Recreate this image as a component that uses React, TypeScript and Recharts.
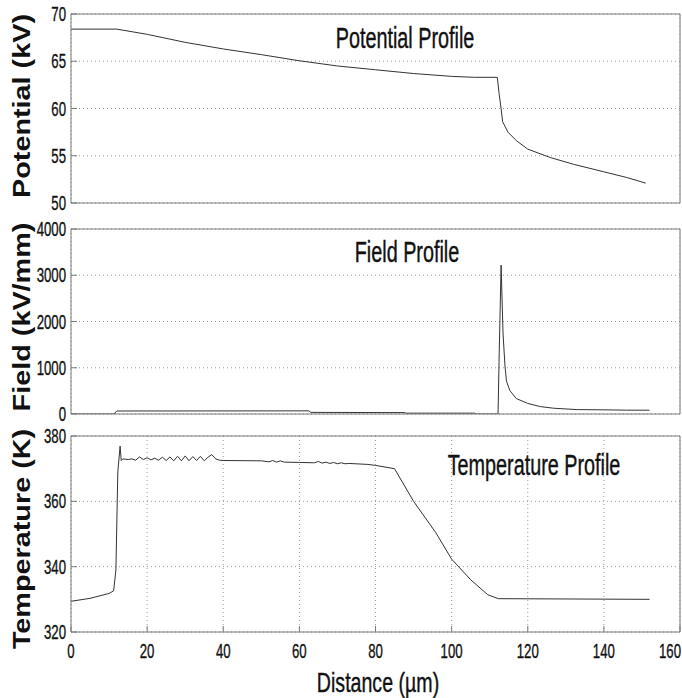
import React from 'react';
import { LineChart, Line, XAxis, YAxis, CartesianGrid } from 'recharts';

// distance along the sample, µm
const distanceTicks = [0, 20, 40, 60, 80, 100, 120, 140, 160];

const potentialX = [0, 12, 20, 30, 40, 50, 60, 70, 80, 90, 100, 106, 112, 112.5, 113, 113.4, 114.8, 117, 120, 126, 132, 140, 146, 151];
const potentialKV = [68.4, 68.4, 67.85, 67.0, 66.3, 65.7, 65.05, 64.5, 64.1, 63.7, 63.4, 63.3, 63.3, 61.5, 60.0, 58.6, 57.5, 56.6, 55.7, 54.8, 54.1, 53.3, 52.7, 52.1];
const potentialTicks = [50, 55, 60, 65, 70];

const fieldX = [0, 11.3, 12, 62.5, 63, 87.5, 88, 106, 106.5, 112.2, 112.5, 113, 113.5, 114, 114.4, 115.3, 117, 120, 123.3, 126.8, 133, 140, 146, 152];
const fieldKVmm = [0, 0, 65, 68, 35, 30, 18, 18, 0, 0, 1300, 3220, 1750, 1060, 714, 506, 333, 229, 160, 125, 95, 90, 83, 82];
const fieldTicks = [0, 1000, 2000, 3000, 4000];

const tempX = [
  0, 5, 10, 11.2, 11.8, 12.3, 12.9, 13.2, 13.6, 15, 16, 17, 18, 19, 20, 21, 22, 23, 24, 25, 26, 27, 28, 29, 30,
  31, 32, 33, 34, 35, 36, 37, 38, 39, 40, 50, 52, 53, 54, 55, 56, 60, 64, 65, 66, 67, 68, 69, 70, 71, 72, 73,
  78, 80, 85, 90, 95.8, 100, 105, 109.5, 112.3, 152,
];
const tempK = [
  329.4, 330.3, 331.8, 332.6, 339, 369, 376.9, 372.5, 373.0, 372.8, 373.0, 372.6, 373.6, 372.8, 373.3, 372.7, 373.2, 372.6, 373.5, 372.5, 373.6, 372.4, 373.8, 372.4, 373.9,
  372.4, 373.7, 372.5, 373.8, 372.4, 373.5, 374.3, 373.0, 372.6, 372.5, 372.4, 372.1, 372.5, 372.0, 372.4, 372.0, 371.9, 371.8, 372.2, 371.7, 372.0, 371.6, 371.9, 371.5, 371.8, 371.5, 371.6,
  371.3, 371.0, 370.0, 360.0, 350.5, 342.3, 336.0, 331.4, 330.2, 330.0,
];
const tempTicks = [320, 340, 360, 380];

const zip = (xs: number[], ys: number[]) => xs.map((x, i) => ({ x, y: ys[i] }));

const W = 682;
const FRAME = '#7a7a7a';
const GRID = '#9a9a9a';
const INK = '#111';
const sans = '"Liberation Sans", Arial, Helvetica, sans-serif';

// condensed look: squeeze regular sans glyphs horizontally, thin outline for weight
const YTick = (props: any) => {
  const { x, y, payload } = props;
  return (
    <text transform={`translate(${x},${y + 7}) scale(0.66,1)`} textAnchor="end" fontFamily={sans} fontSize={20} fill={INK} stroke={INK} strokeWidth={0.35}>
      {payload.value}
    </text>
  );
};

const XTick = (props: any) => {
  const { x, y, payload } = props;
  // the last label would run past the right edge, so pull it back inside
  const atEdge = x > W - 12;
  return (
    <text
      transform={`translate(${atEdge ? W - 1 : x},${y + 22}) scale(0.66,1)`}
      textAnchor={atEdge ? 'end' : 'middle'}
      fontFamily={sans}
      fontSize={20}
      fill={INK}
      stroke={INK}
      strokeWidth={0.35}
    >
      {payload.value}
    </text>
  );
};

const Title = ({ x, y, text, sx = 0.66, size = 30 }: { x: number; y: number; text: string; sx?: number; size?: number }) => (
  <text transform={`translate(${x},${y}) scale(${sx},1)`} textAnchor="middle" fontFamily={sans} fontSize={size} fill={INK} stroke={INK} strokeWidth={0.4}>
    {text}
  </text>
);

const SideLabel = ({ y, text }: { y: number; text: string }) => (
  <text transform={`translate(30,${y}) rotate(-90) scale(1.2,1)`} textAnchor="middle" fontFamily={sans} fontWeight="bold" fontSize={24} fill={INK}>
    {text}
  </text>
);

type PanelProps = {
  top: number;
  height: number;
  margin: { top: number; right: number; bottom: number; left: number };
  data: { x: number; y: number }[];
  yDomain: [number, number];
  yTicks: number[];
  showX?: boolean;
  children?: React.ReactNode;
};

const Panel = ({ top, height, margin, data, yDomain, yTicks, showX, children }: PanelProps) => (
  <div style={{ position: 'absolute', left: 0, top, width: W, height }}>
    <LineChart width={W} height={height} data={data} margin={margin}>
      <CartesianGrid stroke={GRID} strokeDasharray="1 3" />
      <XAxis
        dataKey="x"
        type="number"
        domain={[0, 160]}
        ticks={distanceTicks}
        interval={0}
        allowDataOverflow
        height={showX ? 66 : 1}
        stroke={FRAME}
        tickSize={-6}
        tickMargin={10}
        tick={showX ? <XTick /> : false}
      />
      <XAxis xAxisId="top" orientation="top" dataKey="x" type="number" domain={[0, 160]} ticks={distanceTicks} interval={0} height={1} stroke={FRAME} tickSize={-6} tick={false} />
      <YAxis
        type="number"
        domain={yDomain}
        ticks={yTicks}
        interval={0}
        allowDataOverflow
        width={71}
        stroke={FRAME}
        tickSize={-6}
        tickMargin={11}
        tick={<YTick />}
      />
      <YAxis yAxisId="right" orientation="right" type="number" domain={yDomain} ticks={yTicks} interval={0} width={1} stroke={FRAME} tickSize={-6} tick={false} />
      <Line type="linear" dataKey="y" stroke="#333" strokeWidth={1} dot={false} isAnimationActive={false} />
      {children}
    </LineChart>
  </div>
);

export default function App() {
  return (
    <div style={{ position: 'absolute', left: 0, top: 0, width: W, height: 698, background: '#fff' }}>
      {/* panels are taller than their slots so the lowest tick label is not clipped */}
      <Panel
        top={0}
        height={222}
        margin={{ top: 13, right: 1, bottom: 18, left: 0 }}
        data={zip(potentialX, potentialKV)}
        yDomain={[50, 70]}
        yTicks={potentialTicks}
      >
        <Title x={405} y={48} text="Potential Profile" />
        <SideLabel y={106} text="Potential (kV)" />
      </Panel>
      <Panel
        top={210}
        height={222}
        margin={{ top: 18, right: 1, bottom: 17, left: 0 }}
        data={zip(fieldX, fieldKVmm)}
        yDomain={[0, 4000]}
        yTicks={fieldTicks}
      >
        <Title x={407} y={52} text="Field Profile" />
        <SideLabel y={107} text="Field (kV/mm)" />
      </Panel>
      <Panel
        top={420}
        height={278}
        margin={{ top: 15, right: 1, bottom: 0, left: 0 }}
        data={zip(tempX, tempK)}
        yDomain={[320, 380]}
        yTicks={tempTicks}
        showX
      >
        <Title x={534} y={55} text="Temperature Profile" />
        <SideLabel y={119} text="Temperature (K)" />
        <Title x={378} y={272} text="Distance (µm)" size={28} sx={0.7} />
      </Panel>
    </div>
  );
}
